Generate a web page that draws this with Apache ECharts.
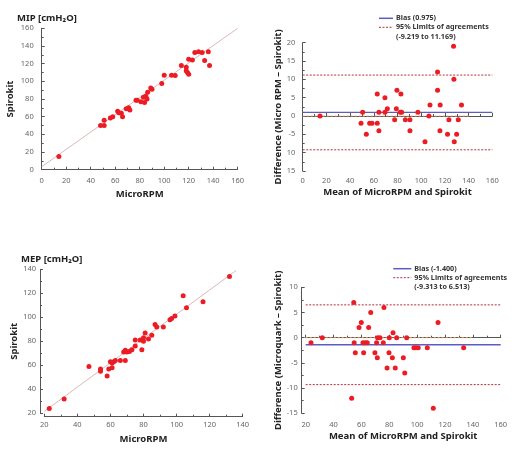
<!DOCTYPE html>
<html>
<head>
<meta charset="utf-8">
<script src="https://cdn.jsdelivr.net/npm/echarts@6/dist/echarts.min.js"></script>
<style>
html, body { margin: 0; padding: 0; background: #fff; }
#chart { width: 522px; height: 449px; }
</style>
</head>
<body>
<div id="chart"></div>
<script>
// MIP: MicroRPM vs Spirokit
var mipMicro = [14, 48, 51, 51, 56, 58, 62, 63, 65, 66, 69, 71, 72, 77, 78, 81, 83, 84, 85, 86,
                86.5, 89, 90, 98, 100, 106, 109, 114, 118, 118, 119, 120, 120, 123, 125, 128, 131, 133, 136, 137];
var mipSpiro = [15, 50, 50, 56, 58.5, 60, 66, 64.5, 64, 60, 69, 70, 67.5, 78.5, 78.5, 77, 82, 76, 83, 80,
                87.5, 92.5, 91, 97.5, 107, 107, 106.5, 118, 116, 112, 110, 108, 125, 124, 132.5, 133.5, 132.5, 123.5, 133.5, 118];
var mipFitX = [0, 160];
var mipFitY = [3.4, 160];

// MIP Bland-Altman
var mipMean = [14.6, 49.2, 50.6, 53.7, 56.5, 58.5, 62.9, 62.9, 64.3, 64.3, 69.4, 69.4, 71.4, 77.6, 79, 79.5, 82.3, 82.9, 83.5, 86.6,
               90.5, 90.5, 97.2, 103.2, 106.5, 107.4, 113.8, 113.8, 115.8, 116, 122.2, 123.4, 127.3, 127.6, 127.9, 129.9, 131.3, 134];
var mipDiff = [0, -2, 1, -5, -2, -2, 6, -2, -4, 1, 5, 1, 2, -1, 2, 7, 1, 6, 1, -1,
               -1, -4, 1, -7, 0, 3, 12, 7, -4, 3, -5, -1, 19, 10, -7, -5, -1, 3];
var mipBias = 0.975, mipLoaLow = -9.219, mipLoaHigh = 11.169;
var mipZeroX = [0, 140];

// MEP: MicroRPM vs Spirokit
var mepMicro = [23, 32, 47, 54, 54, 58, 59, 60, 61, 61, 62, 63, 66, 68, 69, 69, 70, 71.5, 73, 75,
                75, 78, 79, 80, 80, 81, 83, 85, 87, 88, 92, 96, 97, 99, 104, 106, 116, 132];
var mepSpiro = [24, 32, 59, 57, 55, 51, 57, 63, 58, 62, 63, 64, 64, 71, 72.5, 64, 71, 71.5, 73, 76,
                81, 81, 73, 83, 80, 87, 82, 85, 94, 92, 92, 98, 99, 101, 118, 108, 113, 134];
var mepFitX = [20, 136];
var mepFitY = [21.6, 139];

// MEP Bland-Altman
var mepMean = [23.8, 31.9, 53, 54.5, 54.8, 55.6, 58.3, 59.9, 61.1, 61.6, 62.8, 64.2, 65.2, 66.7, 69.7, 70.9, 71.4, 71.6, 73.3, 75.7,
               76.2, 78.4, 79.8, 80, 82.2, 82.7, 84.3, 85.3, 90.1, 91.1, 92.5, 97.7, 99.1, 100.8, 107.3, 111.6, 115, 133.4];
var mepDiff = [-1, 0, -12, 7, -1, -3, 2, 3, -1, -3, -1, -1, 2, 5, -3, -1, -4, 0, 0, -1,
               6, -6, -3, 0, -4, 1, -6, 0, -4, -7, 0, -2, -2, -2, -2, -14, 3, -2];
var mepBias = -1.400, mepLoaLow = -9.313, mepLoaHigh = 6.513;
var mepZeroX = [20, 140];

var FONT = 'Noto Sans';
var RED = '#ec1c24';
var BLUE = '#5c5cc4';
var DRED = '#b0303e';
var ORANGE = '#f3a86a';

function zip(a, b) {
    return a.map(function (v, i) { return [v, b[i]]; });
}

function axis(grid, min, max, interval, offset, name, nameGap, fmt) {
    return {
        type: 'value', gridIndex: grid, min: min, max: max, interval: interval, offset: offset,
        name: name, nameLocation: 'middle', nameGap: nameGap,
        nameTextStyle: { fontFamily: FONT, fontWeight: 'bold', fontSize: 9.5, color: '#222' },
        axisLine: { show: true, lineStyle: { color: '#555', width: 1 } },
        axisTick: { show: true, inside: true, length: 3, lineStyle: { color: '#555' } },
        minorTick: { show: true, splitNumber: 2, length: 2, lineStyle: { color: '#555' } },
        splitLine: { show: false },
        axisLabel: { fontFamily: FONT, fontSize: 7.5, color: '#666', margin: 4, formatter: fmt }
    };
}

function hline(name, xi, y, x0, x1, color, width, dash) {
    return {
        name: name, type: 'line', xAxisIndex: xi, yAxisIndex: xi, symbol: 'none', silent: true,
        data: [[x0, y], [x1, y]],
        lineStyle: { color: color, width: width, type: dash }
    };
}

function scatter(xi, xs, ys) {
    return {
        type: 'scatter', xAxisIndex: xi, yAxisIndex: xi, symbolSize: 5,
        itemStyle: { color: RED, opacity: 1 }, data: zip(xs, ys), z: 5
    };
}

function legendGroup(lx, ly, len, bias, lo, hi) {
    var tx = lx + len + 3;
    var st = function (t, y) {
        return { type: 'text', x: tx, y: y,
                 style: { text: t, fontFamily: FONT, fontSize: 7.2, fontWeight: 'bold', fill: '#333', verticalAlign: 'middle' } };
    };
    return {
        type: 'group', children: [
            { type: 'line', shape: { x1: lx, y1: ly, x2: lx + len, y2: ly }, style: { stroke: BLUE, lineWidth: 1.5 } },
            st('Bias (' + bias.toFixed(3) + ')', ly),
            { type: 'line', shape: { x1: lx, y1: ly + 9, x2: lx + len, y2: ly + 9 },
              style: { stroke: DRED, lineWidth: 1, lineDash: [2, 1.5] } },
            st('95% Limits of agreements', ly + 9),
            st('(' + lo.toFixed(3) + ' to ' + hi.toFixed(3) + ')', ly + 18.5)
        ]
    };
}

var fmtTopBA = function (v) { return v <= -10 ? String(-v) : String(v); };

var option = {
    animation: false,
    backgroundColor: '#fff',
    title: [
        { text: 'MIP [cmH\u2082O]', left: 12, top: 8, textStyle: { fontFamily: FONT, fontSize: 9.5, fontWeight: 'bold', color: '#222' } },
        { text: 'MEP [cmH\u2082O]', left: 16, top: 249, textStyle: { fontFamily: FONT, fontSize: 9.5, fontWeight: 'bold', color: '#222' } }
    ],
    grid: [
        { left: 41.7, top: 28.3, width: 196, height: 141.4 },
        { left: 302.7, top: 42.7, width: 189.6, height: 128.3 },
        { left: 44.3, top: 269.3, width: 198.4, height: 144 },
        { left: 305.7, top: 287.3, width: 195, height: 126 }
    ],
    xAxis: [
        axis(0, 0, 160, 20, 3, 'MicroRPM', 17),
        axis(1, 0, 160, 20, 2.3, 'Mean of MicroRPM and Spirokit', 14),
        axis(2, 20, 140, 20, 3.4, 'MicroRPM', 18),
        axis(3, 20, 160, 20, 3.4, 'Mean of MicroRPM and Spirokit', 15)
    ],
    yAxis: [
        axis(0, 0, 160, 20, 4, 'Spirokit', 22),
        axis(1, -15, 20, 5, 3.4, 'Difference (Micro RPM \u2013 Spirokit)', 15, fmtTopBA),
        axis(2, 20, 140, 20, 4.3, 'Spirokit', 19),
        axis(3, -15, 10, 5, 4, 'Difference (Microquark \u2013 Spirokit)', 16)
    ],
    graphic: [
        legendGroup(379, 18.3, 14, mipBias, mipLoaLow, mipLoaHigh),
        legendGroup(393.3, 268.7, 18, mepBias, mepLoaLow, mepLoaHigh)
    ],
    series: [
        { type: 'line', xAxisIndex: 0, yAxisIndex: 0, symbol: 'none', silent: true,
          data: zip(mipFitX, mipFitY), lineStyle: { color: '#dbb8b8', width: 1 } },
        scatter(0, mipMicro, mipSpiro),

        hline('zero', 1, 0, mipZeroX[0], mipZeroX[1], ORANGE, 1, [2, 2]),
        hline('bias', 1, mipBias, 0, 160, BLUE, 1.3, 'solid'),
        hline('loaHigh', 1, mipLoaHigh, 0, 160, DRED, 1, [2, 1.5]),
        hline('loaLow', 1, mipLoaLow, 0, 160, DRED, 1, [2, 1.5]),
        scatter(1, mipMean, mipDiff),

        { type: 'line', xAxisIndex: 2, yAxisIndex: 2, symbol: 'none', silent: true,
          data: zip(mepFitX, mepFitY), lineStyle: { color: '#dbb8b8', width: 1 } },
        scatter(2, mepMicro, mepSpiro),

        hline('zero', 3, 0, mepZeroX[0], mepZeroX[1], ORANGE, 1, [2, 2]),
        hline('bias', 3, mepBias, 20, 160, BLUE, 1.3, 'solid'),
        hline('loaHigh', 3, mepLoaHigh, 20, 160, DRED, 1, [2, 1.5]),
        hline('loaLow', 3, mepLoaLow, 20, 160, DRED, 1, [2, 1.5]),
        scatter(3, mepMean, mepDiff)
    ]
};

var chart = echarts.init(document.getElementById('chart'));
chart.setOption(option);
</script>
</body>
</html>
